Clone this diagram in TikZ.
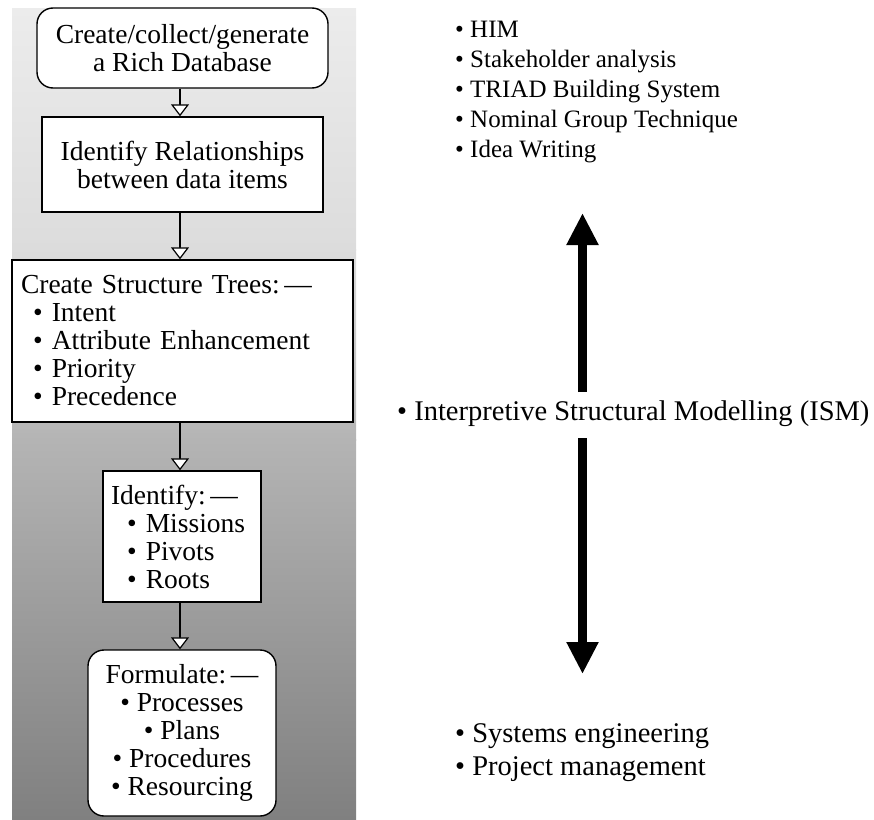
\documentclass[tikz,border=0pt]{standalone}
\usepackage{fontspec}
\setmainfont{Liberation Serif}
\usetikzlibrary{arrows.meta}
\begin{document}
\begin{tikzpicture}[x=1pt,y=-1pt,
  box/.style={draw, line width=1.4pt, fill=white, inner sep=0pt,
    font=\fontsize{27.5}{28}\selectfont},
  roundbox/.style={box, rounded corners=16pt},
  flow/.style={line width=1.4pt,
    -{Triangle[width=18pt,length=12pt,fill=white,line width=1.2pt]}},
  bigarrow/.style={line width=9pt, -{Triangle[width=30pt,length=32pt]}},
  smalllist/.style={anchor=base west, inner sep=0pt, font=\fontsize{25}{30}\selectfont},
  biglist/.style={anchor=base west, inner sep=0pt, font=\fontsize{28.5}{33}\selectfont}]
\useasboundingbox (0,0) rectangle (874,819);

% grey panel behind the process chain, darkening towards the bottom
\shade[top color={rgb,255:red,236;green,236;blue,236}, bottom color={rgb,255:red,220;green,220;blue,220}]
  (12,8) rectangle (356,250);
\shade[top color={rgb,255:red,220;green,220;blue,220}, bottom color={rgb,255:red,180;green,180;blue,180}]
  (12,249.5) rectangle (356,440);
\shade[top color={rgb,255:red,180;green,180;blue,180}, bottom color={rgb,255:red,128;green,128;blue,128}]
  (12,439.5) rectangle (356,819);

% process chain
\node[roundbox, minimum width=291pt, minimum height=80pt, align=center] (db) at (182.5,48)
  {Create/collect/generate\\a Rich Database};
\node[box, minimum width=281pt, minimum height=95pt, align=center] (rel) at (182.5,164.5)
  {Identify Relationships\\between data items};
\node[box, minimum width=341pt, minimum height=162pt, text width=323pt, align=left] (trees) at (182.5,341)
  {Create Structure Trees:\,—\\
   \hspace*{12pt}• Intent\\
   \hspace*{12pt}• Attribute Enhancement\\
   \hspace*{12pt}• Priority\\
   \hspace*{12pt}• Precedence};
\node[box, minimum width=158pt, minimum height=131pt, text width=142pt, align=left] (ident) at (182,536.5)
  {Identify:\,—\\
   \hspace*{16pt}• Missions\\
   \hspace*{16pt}• Pivots\\
   \hspace*{16pt}• Roots};
\node[roundbox, minimum width=188pt, minimum height=166pt, align=center] (form) at (182,733)
  {Formulate:\,—\\• Processes\\• Plans\\• Procedures\\• Resourcing};

\coordinate (ax) at (180,0);
\draw[flow] (db.south -| ax) -- (rel.north -| ax);
\draw[flow] (rel.south -| ax) -- (trees.north -| ax);
\draw[flow] (trees.south -| ax) -- (ident.north -| ax);
\draw[flow] (ident.south -| ax) -- (form.north -| ax);

% techniques on the right
\node[smalllist] (him)   at (455,37)  {• HIM};
\node[smalllist] (stake) at (455,67)  {• Stakeholder analysis};
\node[smalllist] (triad) at (455,97)  {• TRIAD Building System};
\node[smalllist] (ngt)   at (455,127) {• Nominal Group Technique};
\node[smalllist] (idea)  at (455,157) {• Idea Writing};

\node[biglist] (ism) at (397,420) {• Interpretive Structural Modelling (ISM)};

\node[biglist] (syseng) at (455,742) {• Systems engineering};
\node[biglist] (pm)     at (455,775) {• Project management};

\coordinate (upshaft) at (582.5,392);
\coordinate (uptip)   at (582.5,213);
\coordinate (dnshaft) at (582.5,438);
\coordinate (dntip)   at (582.5,674);
\draw[bigarrow] (upshaft) -- (uptip);
\draw[bigarrow] (dnshaft) -- (dntip);
\end{tikzpicture}
\end{document}
